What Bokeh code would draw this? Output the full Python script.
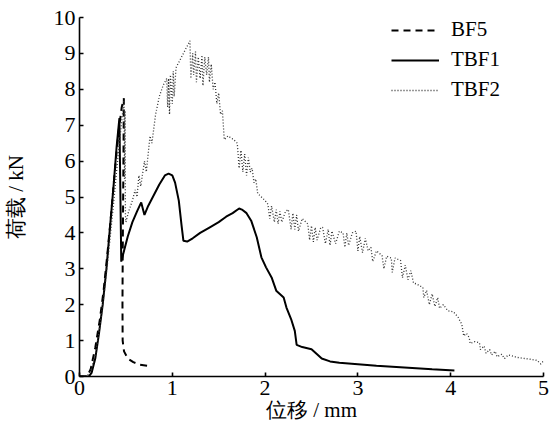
from bokeh.plotting import figure
from bokeh.models import Range1d, FixedTicker, Legend, LegendItem
from bokeh.embed import file_html
from bokeh.resources import INLINE

# ---- data ----
bf5_x = [0, 0.08, 0.12, 0.17, 0.22, 0.26, 0.30, 0.34, 0.38, 0.42, 0.455, 0.478,
         0.472, 0.466, 0.463, 0.465, 0.48, 0.52, 0.58, 0.65, 0.73]
bf5_y = [0, 0.0, 0.2, 0.8, 1.6, 2.4, 3.4, 4.5, 5.7, 6.8, 7.5, 7.75,
         5.5, 3.5, 2.0, 1.0, 0.7, 0.5, 0.4, 0.33, 0.3]

tbf1_x = [0, 0.1, 0.13, 0.17, 0.21, 0.25, 0.29, 0.33, 0.37, 0.40, 0.43, 0.45,
          0.48, 0.52, 0.57, 0.62, 0.665, 0.70, 0.74, 0.80, 0.86, 0.92, 0.96,
          1.00, 1.03, 1.07, 1.10, 1.12, 1.16, 1.22, 1.30, 1.40, 1.50, 1.58,
          1.65, 1.72, 1.75, 1.80, 1.85, 1.91, 1.96, 2.01, 2.07, 2.12, 2.20,
          2.23, 2.28, 2.32, 2.34, 2.40, 2.50, 2.56, 2.61, 2.70, 2.80, 3.00,
          3.20, 3.50, 3.80, 4.04]
tbf1_y = [0, 0.0, 0.1, 0.5, 1.2, 2.0, 3.0, 4.2, 5.4, 6.4, 7.2, 3.2,
          3.5, 3.9, 4.3, 4.6, 4.85, 4.5, 4.75, 5.05, 5.35, 5.6, 5.65,
          5.6, 5.4, 4.9, 4.2, 3.78, 3.76, 3.85, 4.0, 4.15, 4.3, 4.45,
          4.55, 4.68, 4.65, 4.55, 4.34, 3.88, 3.32, 3.04, 2.76, 2.39, 2.2,
          1.92, 1.6, 1.27, 0.88, 0.82, 0.76, 0.62, 0.5, 0.42, 0.38, 0.34,
          0.3, 0.25, 0.2, 0.17]

tbf2_x = [0, 0.08, 0.12, 0.17, 0.22, 0.27, 0.32, 0.37, 0.41, 0.45, 0.48, 0.485,
          0.49, 0.495, 0.50, 0.53, 0.57, 0.60, 0.62, 0.64, 0.66, 0.70, 0.72,
          0.76, 0.78, 0.82, 0.86, 0.90, 0.94, 0.95, 0.96, 0.97, 0.98, 1.00,
          1.01, 1.02, 1.04, 1.10, 1.16, 1.19, 1.20, 1.22, 1.23, 1.25, 1.26,
          1.28, 1.30, 1.32, 1.33, 1.35, 1.37, 1.39, 1.40, 1.42, 1.44, 1.46,
          1.48, 1.50, 1.52, 1.54, 1.56, 1.60, 1.66, 1.70, 1.72, 1.74, 1.76,
          1.78, 1.80, 1.82, 1.84, 1.86, 1.88, 1.90, 1.92, 1.96, 2.00, 2.03,
          2.05, 2.07, 2.10, 2.12, 2.14, 2.16, 2.18, 2.22, 2.25, 2.28, 2.30,
          2.32, 2.34, 2.36, 2.40, 2.46, 2.48, 2.50, 2.52, 2.54, 2.56, 2.60,
          2.62, 2.65, 2.68, 2.70, 2.72, 2.76, 2.80, 2.84, 2.86, 2.88, 2.90,
          2.94, 2.98, 3.00, 3.02, 3.05, 3.08, 3.11, 3.14, 3.16, 3.20, 3.26,
          3.28, 3.31, 3.36, 3.37, 3.40, 3.46, 3.48, 3.51, 3.54, 3.57, 3.60,
          3.63, 3.70, 3.71, 3.74, 3.77, 3.80, 3.83, 3.86, 3.88, 3.92, 3.97,
          4.03, 4.08, 4.12, 4.14, 4.17, 4.20, 4.21, 4.26, 4.31, 4.32, 4.36,
          4.38, 4.42, 4.44, 4.48, 4.50, 4.55, 4.58, 4.62, 4.72, 4.80, 4.86,
          4.93, 4.97, 5.0]
tbf2_y = [0, 0.0, 0.15, 0.6, 1.4, 2.4, 3.6, 4.9, 6.0, 7.0, 7.7, 5.5,
          7.4, 4.5, 4.3, 4.6, 4.9, 5.2, 5.0, 5.6, 5.3, 6.0, 5.7,
          6.7, 6.5, 7.3, 7.8, 8.1, 8.3, 7.5, 8.3, 7.3, 8.4, 7.6,
          8.5, 7.8, 8.6, 8.9, 9.2, 9.35, 8.3, 9.0, 8.4, 9.05, 8.2,
          8.9, 8.3, 8.95, 8.1, 8.9, 8.4, 8.9, 8.2, 8.7, 8.0, 8.2,
          7.6, 7.9, 7.3, 7.4, 6.6, 6.7, 6.6, 6.5, 5.8, 6.3, 5.7,
          6.2, 5.6, 6.1, 5.7, 5.8, 5.4, 5.5, 5.1, 5.0, 4.9, 4.8,
          4.4, 4.75, 4.3, 4.65, 4.25, 4.6, 4.3, 4.6, 4.65, 4.1, 4.55,
          4.1, 4.5, 4.05, 4.4, 4.25, 3.8, 4.2, 3.75, 4.15, 3.8, 4.15,
          4.15, 3.7, 4.1, 3.65, 4.05, 3.7, 4.05, 4.0, 3.6, 4.0, 3.65,
          4.0, 4.05, 3.5, 3.9, 3.45, 3.85, 3.5, 3.6, 3.2, 3.5, 3.37,
          3.0, 3.35, 3.3, 2.9, 3.3, 3.23, 2.75, 3.1, 2.7, 2.95, 2.6,
          2.58, 2.48, 2.2, 2.4, 2.0, 2.3, 1.95, 2.2, 1.9, 2.0, 1.83,
          1.8, 1.65, 1.45, 1.13, 1.2, 1.08, 0.92, 0.97, 0.94, 0.75, 0.85,
          0.65, 0.75, 0.6, 0.7, 0.55, 0.62, 0.5, 0.6, 0.53, 0.5, 0.48,
          0.45, 0.35, 0.43]

x_ticks = [0, 1, 2, 3, 4, 5]
y_ticks = [0, 1, 2, 3, 4, 5, 6, 7, 8, 9, 10]
series_names = ["BF5", "TBF1", "TBF2"]

SERIF = "Liberation Serif"

p = figure(width=551, height=433, output_backend="svg", toolbar_location=None,
           x_range=Range1d(0, 5), y_range=Range1d(0, 10),
           min_border_left=77, min_border_right=8, min_border_top=17,
           min_border_bottom=57)
p.outline_line_color = None
p.xgrid.visible = False
p.ygrid.visible = False
p.background_fill_color = "white"
p.border_fill_color = "white"

r_bf5 = p.line(bf5_x, bf5_y, line_color="black", line_width=2, line_dash="7 5")
r_tbf1 = p.line(tbf1_x, tbf1_y, line_color="black", line_width=2)
r_tbf2 = p.line(tbf2_x, tbf2_y, line_color="#333333", line_width=1.3, line_dash="1 2")

for ax in (p.xaxis[0], p.yaxis[0]):
    ax.axis_line_color = "black"
    ax.axis_line_width = 1.6
    ax.major_tick_line_color = "black"
    ax.major_tick_line_width = 1.6
    ax.major_tick_in = 4
    ax.major_tick_out = 0
    ax.minor_tick_line_color = None
    ax.major_label_text_font = SERIF
    ax.major_label_text_font_size = "22px"
    ax.major_label_text_color = "black"
    ax.axis_label_text_font = SERIF
    ax.axis_label_text_font_size = "21px"
    ax.axis_label_text_font_style = "normal"
    ax.axis_label_text_color = "black"

p.xaxis.ticker = FixedTicker(ticks=x_ticks)
p.yaxis.ticker = FixedTicker(ticks=y_ticks)
p.xaxis.axis_label = "位移 / mm"
p.yaxis.axis_label = "荷载 / kN"
p.xaxis.major_label_standoff = 4
p.yaxis.major_label_standoff = 4
p.xaxis.axis_label_standoff = 0
p.yaxis.axis_label_standoff = 23

legend = Legend(items=[LegendItem(label=series_names[0], renderers=[r_bf5]),
                       LegendItem(label=series_names[1], renderers=[r_tbf1]),
                       LegendItem(label=series_names[2], renderers=[r_tbf2])],
                location=(312, 274))
legend.border_line_color = None
legend.background_fill_alpha = 0
legend.padding = 0
legend.margin = 0
legend.glyph_width = 48
legend.glyph_height = 20
legend.label_height = 20
legend.spacing = 5
legend.label_standoff = 12
legend.label_text_font = SERIF
legend.label_text_font_size = "21px"
legend.label_text_color = "black"
p.add_layout(legend, "center")

open("out.html", "w").write(file_html(p, INLINE))
